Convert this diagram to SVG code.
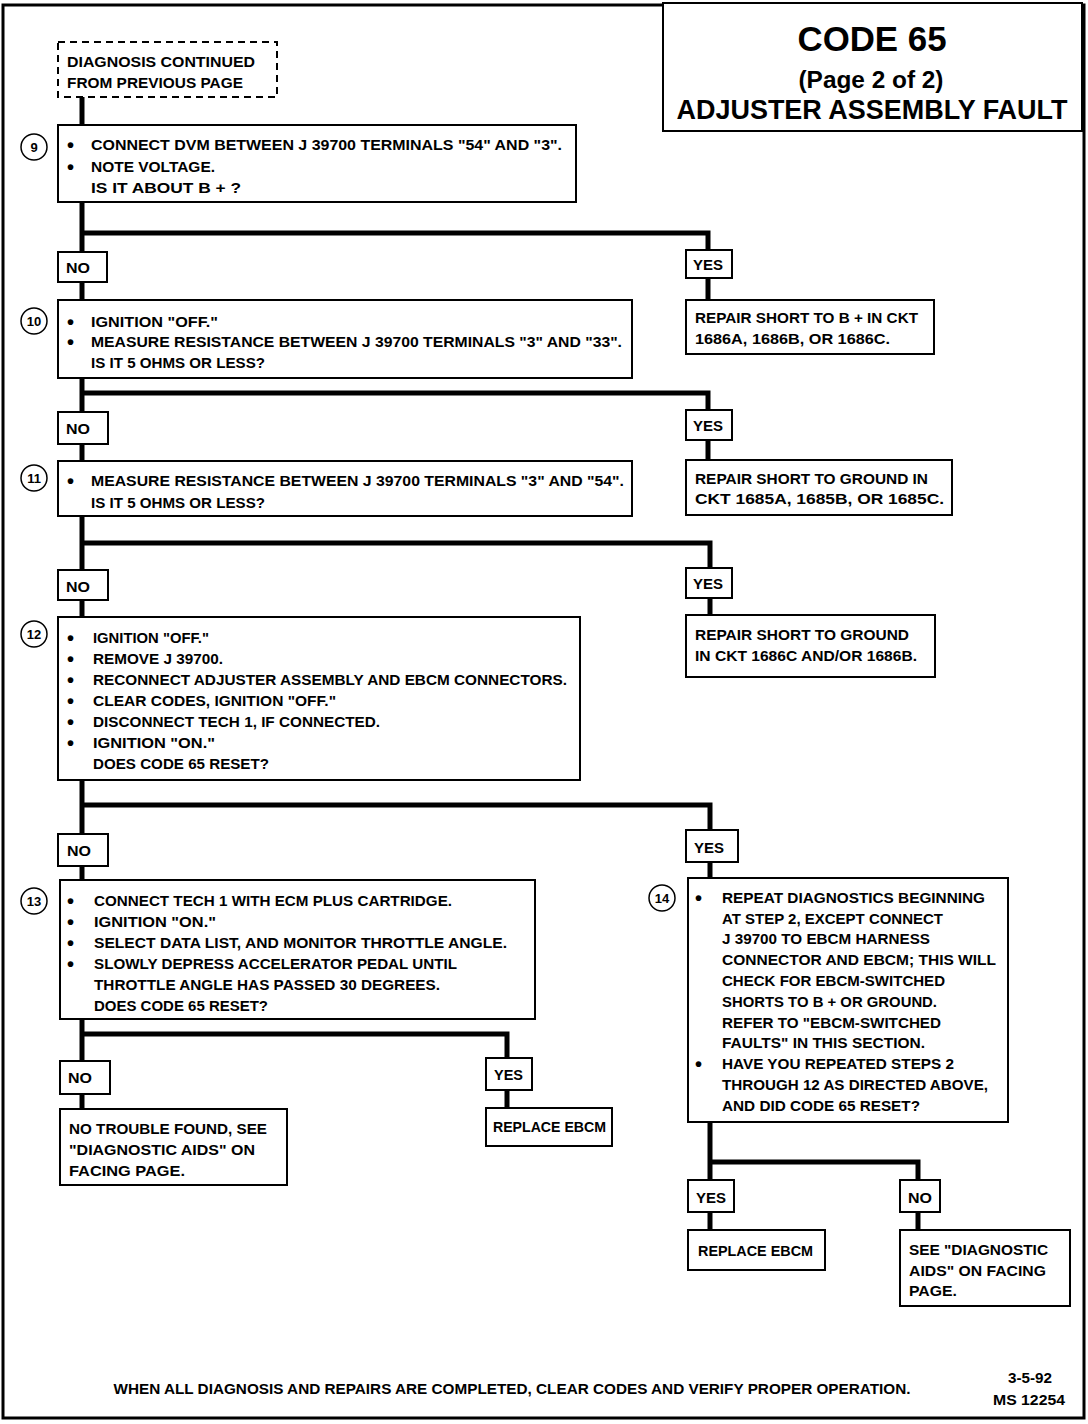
<svg xmlns="http://www.w3.org/2000/svg" width="1088" height="1424" viewBox="0 0 1088 1424">
<style>
.box{fill:#fff;stroke:#000;stroke-width:2}
.dash{fill:#fff;stroke:#000;stroke-width:2;stroke-dasharray:7 5}
.conn{fill:none;stroke:#000;stroke-width:5}
.num{fill:#fff;stroke:#000;stroke-width:1.5}
text{font-family:"Liberation Sans",Arial,sans-serif;font-weight:bold;font-size:15px;fill:#000}
.b{font-size:20px}
.c{text-anchor:middle}
.nt{text-anchor:middle;font-size:13px}
</style>
<rect x="0" y="0" width="1088" height="1424" fill="#fff"/>
<rect x="3" y="5" width="1081" height="1413" fill="none" stroke="#000" stroke-width="3"/>

<g id="title">
<rect x="663" y="3" width="419" height="128" fill="#fff" stroke="#000" stroke-width="2"/>
<text x="872" y="51" class="c" style="font-size:35px" textLength="149" lengthAdjust="spacingAndGlyphs">CODE 65</text>
<text x="871" y="88" class="c" style="font-size:23px" textLength="145" lengthAdjust="spacingAndGlyphs">(Page 2 of 2)</text>
<text x="872" y="119" class="c" style="font-size:27px" textLength="391" lengthAdjust="spacingAndGlyphs">ADJUSTER ASSEMBLY FAULT</text>
</g>

<g id="connectors">
<path class="conn" d="M82,97V125"/>
<path class="conn" d="M82,202V300"/>
<path class="conn" d="M82,233H708V300"/>
<path class="conn" d="M82,378V461"/>
<path class="conn" d="M82,393H708V460"/>
<path class="conn" d="M82,516V617"/>
<path class="conn" d="M82,543H710V615"/>
<path class="conn" d="M82,780V880"/>
<path class="conn" d="M82,805H710V878"/>
<path class="conn" d="M82,1019V1109"/>
<path class="conn" d="M82,1034H507V1108"/>
<path class="conn" d="M710,1122V1230"/>
<path class="conn" d="M710,1162H918V1230"/>
</g>

<g id="start">
<rect class="dash" x="58" y="42" width="219" height="55"/>
<text x="67" y="67" textLength="188" lengthAdjust="spacingAndGlyphs">DIAGNOSIS CONTINUED</text>
<text x="67" y="88" textLength="176" lengthAdjust="spacingAndGlyphs">FROM PREVIOUS PAGE</text>
</g>

<g id="step9">
<rect class="box" x="58" y="125" width="518" height="77"/>
<circle class="num" cx="34" cy="147" r="13"/><text x="34" y="152" class="nt">9</text>
<text x="67" y="152" class="b">•</text><text x="91" y="150" textLength="471" lengthAdjust="spacingAndGlyphs">CONNECT DVM BETWEEN J 39700 TERMINALS "54" AND "3".</text>
<text x="67" y="174" class="b">•</text><text x="91" y="172" textLength="124" lengthAdjust="spacingAndGlyphs">NOTE VOLTAGE.</text>
<text x="91" y="193" textLength="150" lengthAdjust="spacingAndGlyphs">IS IT ABOUT B + ?</text>
</g>

<g id="no1"><rect class="box" x="58" y="252" width="49" height="30"/><text x="66" y="273" textLength="24" lengthAdjust="spacingAndGlyphs">NO</text></g>
<g id="yes1"><rect class="box" x="686" y="250" width="46" height="28"/><text x="693" y="270" textLength="30" lengthAdjust="spacingAndGlyphs">YES</text></g>
<g id="repair1">
<rect class="box" x="686" y="300" width="248" height="54"/>
<text x="695" y="323" textLength="223" lengthAdjust="spacingAndGlyphs">REPAIR SHORT TO B +  IN CKT</text>
<text x="695" y="344" textLength="195" lengthAdjust="spacingAndGlyphs">1686A,  1686B, OR 1686C.</text>
</g>

<g id="step10">
<rect class="box" x="58" y="300" width="574" height="78"/>
<circle class="num" cx="34" cy="321" r="13"/><text x="34" y="326" class="nt">10</text>
<text x="67" y="329" class="b">•</text><text x="91" y="327" textLength="127" lengthAdjust="spacingAndGlyphs">IGNITION "OFF."</text>
<text x="67" y="349" class="b">•</text><text x="91" y="347" textLength="531" lengthAdjust="spacingAndGlyphs">MEASURE RESISTANCE BETWEEN J 39700 TERMINALS "3" AND "33".</text>
<text x="91" y="368" textLength="174" lengthAdjust="spacingAndGlyphs">IS IT 5 OHMS OR LESS?</text>
</g>

<g id="no2"><rect class="box" x="58" y="412" width="50" height="32"/><text x="66" y="434" textLength="24" lengthAdjust="spacingAndGlyphs">NO</text></g>
<g id="yes2"><rect class="box" x="686" y="410" width="46" height="30"/><text x="693" y="431" textLength="30" lengthAdjust="spacingAndGlyphs">YES</text></g>
<g id="repair2">
<rect class="box" x="686" y="460" width="266" height="55"/>
<text x="695" y="484" textLength="233" lengthAdjust="spacingAndGlyphs">REPAIR SHORT TO GROUND IN</text>
<text x="695" y="504" textLength="249" lengthAdjust="spacingAndGlyphs">CKT 1685A, 1685B, OR 1685C.</text>
</g>

<g id="step11">
<rect class="box" x="58" y="461" width="574" height="55"/>
<circle class="num" cx="34" cy="478" r="13"/><text x="34" y="483" class="nt">11</text>
<text x="67" y="488" class="b">•</text><text x="91" y="486" textLength="533" lengthAdjust="spacingAndGlyphs">MEASURE RESISTANCE BETWEEN J 39700 TERMINALS "3" AND "54".</text>
<text x="91" y="508" textLength="174" lengthAdjust="spacingAndGlyphs">IS IT 5 OHMS OR LESS?</text>
</g>

<g id="no3"><rect class="box" x="58" y="570" width="50" height="30"/><text x="66" y="592" textLength="24" lengthAdjust="spacingAndGlyphs">NO</text></g>
<g id="yes3"><rect class="box" x="686" y="568" width="46" height="30"/><text x="693" y="589" textLength="30" lengthAdjust="spacingAndGlyphs">YES</text></g>
<g id="repair3">
<rect class="box" x="686" y="615" width="249" height="62"/>
<text x="695" y="640" textLength="214" lengthAdjust="spacingAndGlyphs">REPAIR SHORT TO GROUND</text>
<text x="695" y="661" textLength="222" lengthAdjust="spacingAndGlyphs">IN CKT 1686C AND/OR 1686B.</text>
</g>

<g id="step12">
<rect class="box" x="58" y="617" width="522" height="163"/>
<circle class="num" cx="34" cy="634" r="13"/><text x="34" y="639" class="nt">12</text>
<text x="67" y="645" class="b">•</text><text x="93" y="643" textLength="116" lengthAdjust="spacingAndGlyphs">IGNITION "OFF."</text>
<text x="67" y="666" class="b">•</text><text x="93" y="664" textLength="130" lengthAdjust="spacingAndGlyphs">REMOVE J 39700.</text>
<text x="67" y="687" class="b">•</text><text x="93" y="685" textLength="474" lengthAdjust="spacingAndGlyphs">RECONNECT ADJUSTER ASSEMBLY AND EBCM CONNECTORS.</text>
<text x="67" y="708" class="b">•</text><text x="93" y="706" textLength="243" lengthAdjust="spacingAndGlyphs">CLEAR CODES, IGNITION "OFF."</text>
<text x="67" y="729" class="b">•</text><text x="93" y="727" textLength="287" lengthAdjust="spacingAndGlyphs">DISCONNECT TECH 1, IF CONNECTED.</text>
<text x="67" y="750" class="b">•</text><text x="93" y="748" textLength="122" lengthAdjust="spacingAndGlyphs">IGNITION "ON."</text>
<text x="93" y="769" textLength="176" lengthAdjust="spacingAndGlyphs">DOES CODE 65 RESET?</text>
</g>

<g id="no4"><rect class="box" x="58" y="834" width="50" height="32"/><text x="67" y="856" textLength="24" lengthAdjust="spacingAndGlyphs">NO</text></g>
<g id="yes4"><rect class="box" x="686" y="830" width="52" height="32"/><text x="694" y="853" textLength="30" lengthAdjust="spacingAndGlyphs">YES</text></g>

<g id="step13">
<rect class="box" x="60" y="880" width="475" height="139"/>
<circle class="num" cx="34" cy="901" r="13"/><text x="34" y="906" class="nt">13</text>
<text x="67" y="908" class="b">•</text><text x="94" y="906" textLength="358" lengthAdjust="spacingAndGlyphs">CONNECT TECH 1 WITH ECM PLUS CARTRIDGE.</text>
<text x="67" y="929" class="b">•</text><text x="94" y="927" textLength="122" lengthAdjust="spacingAndGlyphs">IGNITION "ON."</text>
<text x="67" y="950" class="b">•</text><text x="94" y="948" textLength="413" lengthAdjust="spacingAndGlyphs">SELECT DATA LIST, AND MONITOR THROTTLE ANGLE.</text>
<text x="67" y="971" class="b">•</text><text x="94" y="969" textLength="363" lengthAdjust="spacingAndGlyphs">SLOWLY DEPRESS ACCELERATOR PEDAL UNTIL</text>
<text x="94" y="990" textLength="346" lengthAdjust="spacingAndGlyphs">THROTTLE ANGLE HAS PASSED 30 DEGREES.</text>
<text x="94" y="1011" textLength="174" lengthAdjust="spacingAndGlyphs">DOES CODE 65 RESET?</text>
</g>

<g id="step14">
<rect class="box" x="688" y="878" width="320" height="244"/>
<circle class="num" cx="662" cy="898" r="13"/><text x="662" y="903" class="nt">14</text>
<text x="695" y="905" class="b">•</text><text x="722" y="903" textLength="263" lengthAdjust="spacingAndGlyphs">REPEAT DIAGNOSTICS BEGINNING</text>
<text x="722" y="924" textLength="221" lengthAdjust="spacingAndGlyphs">AT STEP 2, EXCEPT CONNECT</text>
<text x="722" y="944" textLength="208" lengthAdjust="spacingAndGlyphs">J 39700 TO EBCM HARNESS</text>
<text x="722" y="965" textLength="274" lengthAdjust="spacingAndGlyphs">CONNECTOR AND EBCM; THIS WILL</text>
<text x="722" y="986" textLength="223" lengthAdjust="spacingAndGlyphs">CHECK FOR EBCM-SWITCHED</text>
<text x="722" y="1007" textLength="215" lengthAdjust="spacingAndGlyphs">SHORTS TO B +  OR GROUND.</text>
<text x="722" y="1028" textLength="219" lengthAdjust="spacingAndGlyphs">REFER TO "EBCM-SWITCHED</text>
<text x="722" y="1048" textLength="203" lengthAdjust="spacingAndGlyphs">FAULTS" IN THIS SECTION.</text>
<text x="695" y="1071" class="b">•</text><text x="722" y="1069" textLength="232" lengthAdjust="spacingAndGlyphs">HAVE YOU REPEATED STEPS 2</text>
<text x="722" y="1090" textLength="266" lengthAdjust="spacingAndGlyphs">THROUGH 12 AS DIRECTED ABOVE,</text>
<text x="722" y="1111" textLength="198" lengthAdjust="spacingAndGlyphs">AND DID CODE 65 RESET?</text>
</g>

<g id="no5"><rect class="box" x="60" y="1061" width="50" height="33"/><text x="68" y="1083" textLength="24" lengthAdjust="spacingAndGlyphs">NO</text></g>
<g id="yes5"><rect class="box" x="486" y="1058" width="46" height="32"/><text x="494" y="1080" textLength="29" lengthAdjust="spacingAndGlyphs">YES</text></g>
<g id="ntf">
<rect class="box" x="60" y="1109" width="227" height="76"/>
<text x="69" y="1134" textLength="198" lengthAdjust="spacingAndGlyphs">NO TROUBLE FOUND, SEE</text>
<text x="69" y="1155" textLength="186" lengthAdjust="spacingAndGlyphs">"DIAGNOSTIC AIDS" ON</text>
<text x="69" y="1176" textLength="116" lengthAdjust="spacingAndGlyphs">FACING PAGE.</text>
</g>
<g id="replace1">
<rect class="box" x="486" y="1108" width="126" height="38"/>
<text x="493" y="1132" textLength="113" lengthAdjust="spacingAndGlyphs">REPLACE EBCM</text>
</g>

<g id="yes6"><rect class="box" x="688" y="1180" width="46" height="32"/><text x="696" y="1203" textLength="30" lengthAdjust="spacingAndGlyphs">YES</text></g>
<g id="no6"><rect class="box" x="900" y="1180" width="40" height="32"/><text x="908" y="1203" textLength="24" lengthAdjust="spacingAndGlyphs">NO</text></g>
<g id="replace2">
<rect class="box" x="688" y="1230" width="137" height="40"/>
<text x="698" y="1256" textLength="115" lengthAdjust="spacingAndGlyphs">REPLACE EBCM</text>
</g>
<g id="seeaids">
<rect class="box" x="900" y="1230" width="170" height="76"/>
<text x="909" y="1255" textLength="139" lengthAdjust="spacingAndGlyphs">SEE "DIAGNOSTIC</text>
<text x="909" y="1276" textLength="137" lengthAdjust="spacingAndGlyphs">AIDS" ON FACING</text>
<text x="909" y="1296" textLength="48" lengthAdjust="spacingAndGlyphs">PAGE.</text>
</g>

<g id="footer">
<text x="512" y="1394" class="c" textLength="797" lengthAdjust="spacingAndGlyphs">WHEN ALL DIAGNOSIS AND REPAIRS ARE COMPLETED, CLEAR CODES AND VERIFY PROPER OPERATION.</text>
<text x="1030" y="1383" class="c" textLength="44" lengthAdjust="spacingAndGlyphs">3-5-92</text>
<text x="1029" y="1405" class="c" textLength="72" lengthAdjust="spacingAndGlyphs">MS 12254</text>
</g>
</svg>
